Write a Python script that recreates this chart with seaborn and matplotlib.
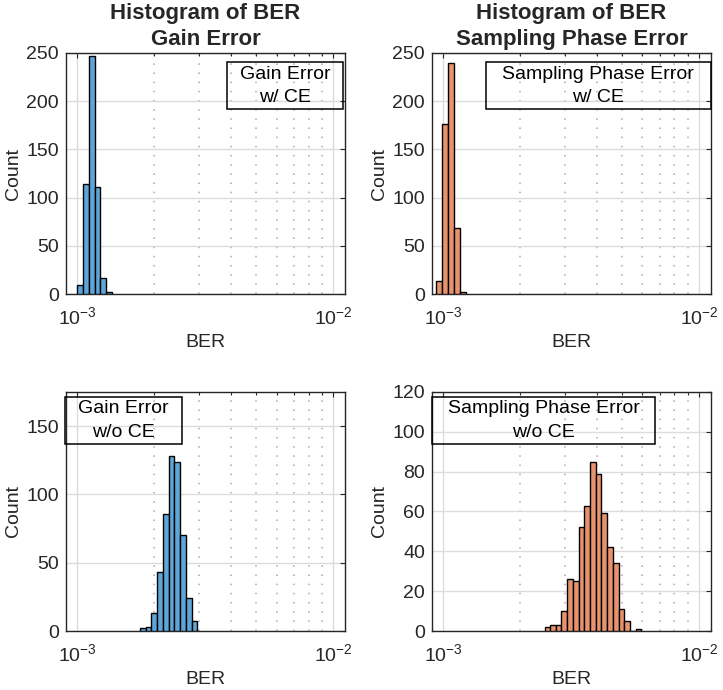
import numpy as np
import pandas as pd
import matplotlib
matplotlib.use("Agg")
import matplotlib.pyplot as plt
import seaborn as sns
from matplotlib.patches import Rectangle
from matplotlib.ticker import LogLocator, NullFormatter

# Bin edges (BER) and counts, one pair per panel
gain_ce_edges = [1.000e-3, 1.053e-3, 1.109e-3, 1.168e-3, 1.230e-3, 1.295e-3, 1.364e-3]
gain_ce_counts = [9, 114, 247, 111, 17, 2]

phase_ce_edges = [0.940e-3, 0.991e-3, 1.046e-3, 1.103e-3, 1.164e-3, 1.228e-3]
phase_ce_counts = [14, 176, 240, 68, 2]

gain_noce_edges = [1.758e-3, 1.850e-3, 1.946e-3, 2.048e-3, 2.156e-3, 2.275e-3,
                   2.393e-3, 2.519e-3, 2.658e-3, 2.799e-3, 2.943e-3]
gain_noce_counts = [2, 3, 13, 43, 86, 128, 124, 70, 24, 7]

phase_noce_edges = [2.489e-3, 2.611e-3, 2.748e-3, 2.891e-3, 3.051e-3, 3.211e-3,
                    3.380e-3, 3.555e-3, 3.741e-3, 3.938e-3, 4.142e-3, 4.371e-3,
                    4.601e-3, 4.844e-3, 5.093e-3, 5.362e-3, 5.644e-3, 5.935e-3]
phase_noce_counts = [2, 3, 3, 10, 26, 25, 52, 63, 85, 79, 59, 42, 34, 11, 5, 0, 1]

titles = ["Histogram of BER\nGain Error", "Histogram of BER\nSampling Phase Error"]
box_labels = ["Gain Error\nw/ CE", "Sampling Phase Error\nw/ CE",
              "Gain Error\nw/o CE", "Sampling Phase Error\nw/o CE"]

BLUE = "#5fa6d8"
ORANGE = "#e8936e"
AX_COLOR = "#262626"

sns.set_style("white")
plt.rcParams["font.family"] = ["Liberation Sans", "DejaVu Sans"]
plt.rcParams["mathtext.fontset"] = "custom"
plt.rcParams["mathtext.rm"] = "Liberation Sans"
plt.rcParams["mathtext.it"] = "Liberation Sans:italic"
plt.rcParams["mathtext.bf"] = "Liberation Sans:bold"

fig = plt.figure(figsize=(7.23, 6.9), dpi=100)

# axes positions [left, bottom, width, height] in figure fraction
positions = [
    [0.0913, 0.5739, 0.3859, 0.3493],
    [0.5975, 0.5739, 0.3859, 0.3493],
    [0.0913, 0.0855, 0.3859, 0.3464],
    [0.5975, 0.0855, 0.3859, 0.3464],
]
panels = [
    (gain_ce_edges, gain_ce_counts, BLUE, 250, 50),
    (phase_ce_edges, phase_ce_counts, ORANGE, 250, 50),
    (gain_noce_edges, gain_noce_counts, BLUE, 175, 50),
    (phase_noce_edges, phase_noce_counts, ORANGE, 120, 20),
]
# text box extents in axes fraction: x0, y0, x1, y1
boxes = [
    (0.577, 0.766, 0.993, 0.961),
    (0.192, 0.766, 1.000, 0.961),
    (-0.004, 0.781, 0.415, 0.979),
    (0.000, 0.781, 0.800, 0.979),
]

for i, (edges, counts, col, ytop, ystep) in enumerate(panels):
    ax = fig.add_axes(positions[i])
    e = np.array(edges)
    df = pd.DataFrame({"ber": np.sqrt(e[:-1] * e[1:]), "n": counts})
    sns.histplot(data=df, x="ber", weights="n", bins=list(edges), ax=ax,
                 color=col, edgecolor="black", linewidth=1.0, alpha=1.0,
                 zorder=3)
    ax.set_xscale("log")
    ax.set_xlim(9.035e-4, 1.111e-2)
    ax.set_ylim(0, ytop)
    ax.set_yticks(np.arange(0, ytop + 1, ystep))
    ax.set_xticks([1e-3, 1e-2])
    ax.xaxis.set_minor_locator(LogLocator(base=10, subs=np.arange(2, 10)))
    ax.xaxis.set_minor_formatter(NullFormatter())

    ax.grid(True, which="major", color="#dcdcdc", linewidth=1.0, zorder=0)
    ax.grid(True, which="minor", axis="x", color="#aaaaaa", linewidth=1.1,
            linestyle=(0, (1, 5)), zorder=0)
    ax.set_axisbelow(True)

    ax.tick_params(which="both", direction="in", top=True, right=True,
                   color=AX_COLOR, labelcolor=AX_COLOR, labelsize=14)
    ax.tick_params(which="major", length=3.5, width=0.8)
    ax.tick_params(which="minor", length=2.0, width=0.8)
    ax.tick_params(axis="x", pad=9)
    ax.tick_params(axis="y", pad=5)
    for sp in ax.spines.values():
        sp.set_color(AX_COLOR)
        sp.set_linewidth(1.0)
        sp.set_visible(True)

    ax.set_xlabel("BER", fontsize=14, color=AX_COLOR, labelpad=4)
    ax.set_ylabel("Count", fontsize=14, color=AX_COLOR, labelpad=3)
    if i < 2:
        ax.set_title(titles[i], fontsize=16, fontweight="bold", pad=6,
                     linespacing=1.27)

    x0, y0, x1, y1 = boxes[i]
    ax.add_patch(Rectangle((x0, y0), x1 - x0, y1 - y0, transform=ax.transAxes,
                           fill=False, edgecolor="black", linewidth=1.1,
                           clip_on=False, zorder=5))
    ax.text((x0 + x1) / 2, (y0 + y1) / 2, box_labels[i], transform=ax.transAxes,
            ha="center", va="center", fontsize=14, color="black",
            linespacing=1.5, zorder=6)

fig.savefig("out.png", dpi=100)
